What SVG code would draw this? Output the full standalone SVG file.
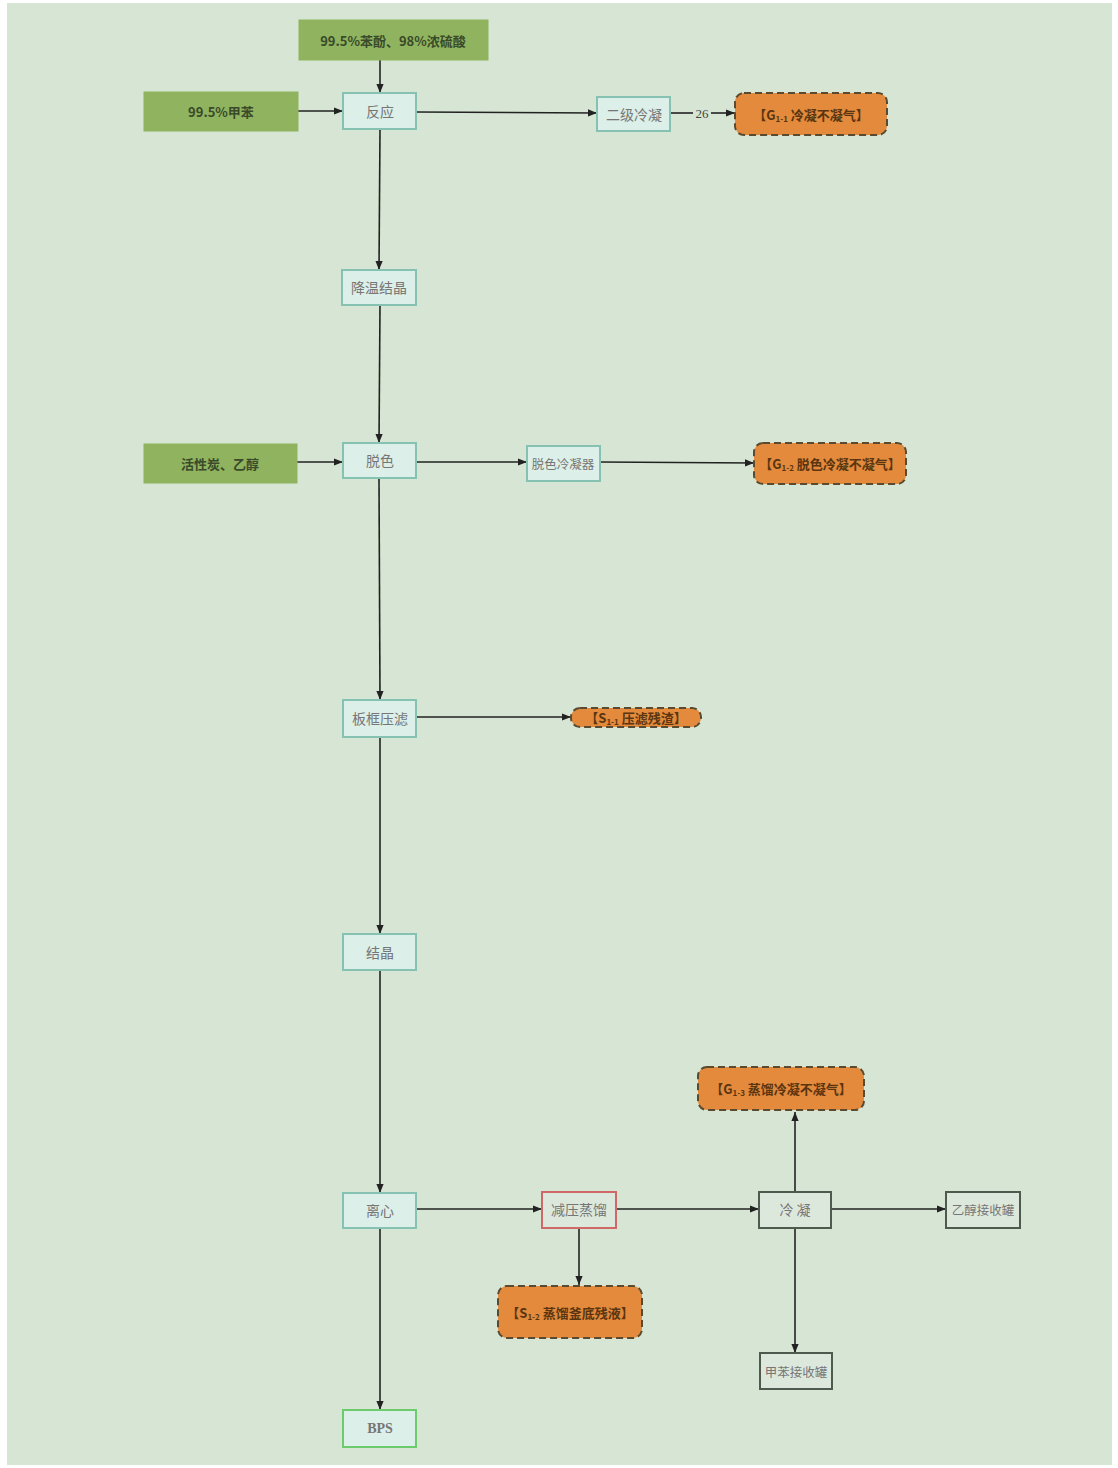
<svg xmlns="http://www.w3.org/2000/svg" width="1118" height="1468" viewBox="0 0 1118 1468">
  <defs>
    <marker id="arr" viewBox="0 0 10 10" refX="10" refY="5" markerWidth="9" markerHeight="9" markerUnits="userSpaceOnUse" orient="auto">
      <path d="M0,1 L10,5 L0,9 Z" fill="#222"/>
    </marker>
    <style>
      text { font-family: "Noto Sans CJK SC", "Liberation Serif", serif; dominant-baseline: central; text-anchor: middle; }
      .feed rect { fill: #8fb35e; stroke: #8fb35e; }
      .feed text { font-size: 13px; fill: #3a4a2a; font-weight: bold; }
      .step rect { fill: #dcefe9; stroke: #86c2b2; stroke-width: 2; }
      .step text { font-size: 14px; fill: #767676; }
      .step text.long { font-size: 12.5px; }
      .dark rect { fill: #dde8dc; stroke: #4d5a4d; stroke-width: 2; }
      .red rect { fill: #dde8dc; stroke: #d06868; stroke-width: 2; }
      .prod rect { fill: #dcefe9; stroke: #6ccb6c; stroke-width: 2; }
      .emit rect { fill: #e38a3c; stroke: #5a4a30; stroke-width: 2; stroke-dasharray: 7 4; }
      .emit text { font-size: 13px; fill: #5a3510; font-weight: bold; }
      .emit tspan.sub { font-size: 8px; }
      #connectors line { stroke: #222; stroke-width: 1.6; fill: none; }
      .lbl { font-size: 13px; fill: #444; font-family: "Liberation Serif", serif; }
      .latin { font-family: "Liberation Serif", serif; font-weight: bold; }
    </style>
  </defs>

  <!-- page -->
  <rect x="0" y="0" width="1118" height="1468" fill="#ffffff"/>
  <rect x="7" y="3" width="1105" height="1462" fill="#d7e6d4"/>

  <!-- connectors -->
  <g id="connectors">
    <line x1="380" y1="60" x2="380" y2="93" marker-end="url(#arr)"/>
    <line x1="298" y1="111" x2="343" y2="111" marker-end="url(#arr)"/>
    <line x1="416" y1="112" x2="597" y2="113" marker-end="url(#arr)"/>
    <line x1="670" y1="113" x2="693" y2="113"/>
    <line x1="711" y1="113" x2="735" y2="113" marker-end="url(#arr)"/>
    <line x1="380" y1="129" x2="379" y2="270" marker-end="url(#arr)"/>
    <line x1="380" y1="305" x2="379" y2="443" marker-end="url(#arr)"/>
    <line x1="297" y1="462" x2="343" y2="462" marker-end="url(#arr)"/>
    <line x1="416" y1="462" x2="527" y2="462" marker-end="url(#arr)"/>
    <line x1="600" y1="462" x2="754" y2="463" marker-end="url(#arr)"/>
    <line x1="379" y1="478" x2="380" y2="700" marker-end="url(#arr)"/>
    <line x1="416" y1="717" x2="571" y2="717" marker-end="url(#arr)"/>
    <line x1="380" y1="737" x2="380" y2="934" marker-end="url(#arr)"/>
    <line x1="380" y1="970" x2="380" y2="1193" marker-end="url(#arr)"/>
    <line x1="416" y1="1209" x2="542" y2="1209" marker-end="url(#arr)"/>
    <line x1="616" y1="1209" x2="759" y2="1209" marker-end="url(#arr)"/>
    <line x1="831" y1="1209" x2="946" y2="1209" marker-end="url(#arr)"/>
    <line x1="795" y1="1192" x2="795" y2="1112" marker-end="url(#arr)"/>
    <line x1="795" y1="1228" x2="795" y2="1353" marker-end="url(#arr)"/>
    <line x1="579" y1="1228" x2="579" y2="1285" marker-end="url(#arr)"/>
    <line x1="380" y1="1228" x2="380" y2="1410" marker-end="url(#arr)"/>
  </g>
  <text class="lbl" x="702" y="113">26</text>

  <!-- raw material feeds -->
  <g id="feed-phenol" class="feed">
    <rect x="299" y="20" width="189" height="40"/>
    <text x="393" y="40">99.5%苯酚、98%浓硫酸</text>
  </g>
  <g id="feed-toluene" class="feed">
    <rect x="144" y="92" width="154" height="39"/>
    <text x="221" y="111">99.5%甲苯</text>
  </g>
  <g id="feed-carbon" class="feed">
    <rect x="144" y="444" width="153" height="39"/>
    <text x="220" y="463">活性炭、乙醇</text>
  </g>

  <!-- process steps -->
  <g id="reaction" class="step">
    <rect x="343" y="93" width="73" height="36"/>
    <text x="380" y="111">反应</text>
  </g>
  <g id="condenser2" class="step">
    <rect x="597" y="97" width="73" height="34"/>
    <text x="634" y="114">二级冷凝</text>
  </g>
  <g id="cooling" class="step">
    <rect x="342" y="270" width="74" height="35"/>
    <text x="379" y="287">降温结晶</text>
  </g>
  <g id="decolor" class="step">
    <rect x="343" y="443" width="73" height="35"/>
    <text x="380" y="460">脱色</text>
  </g>
  <g id="decolor-condenser" class="step">
    <rect x="527" y="446" width="73" height="35"/>
    <text class="long" x="563" y="463">脱色冷凝器</text>
  </g>
  <g id="filter" class="step">
    <rect x="343" y="700" width="73" height="37"/>
    <text x="380" y="718">板框压滤</text>
  </g>
  <g id="crystal" class="step">
    <rect x="343" y="934" width="73" height="36"/>
    <text x="380" y="952">结晶</text>
  </g>
  <g id="centrifuge" class="step">
    <rect x="343" y="1193" width="73" height="35"/>
    <text x="380" y="1210">离心</text>
  </g>
  <g id="distill" class="step red">
    <rect x="542" y="1192" width="74" height="36"/>
    <text x="579" y="1209">减压蒸馏</text>
  </g>
  <g id="condense" class="step dark">
    <rect x="759" y="1192" width="72" height="36"/>
    <text x="795" y="1209">冷 凝</text>
  </g>
  <g id="ethanol-tank" class="step dark">
    <rect x="946" y="1192" width="74" height="36"/>
    <text class="long" x="983" y="1209">乙醇接收罐</text>
  </g>
  <g id="toluene-tank" class="step dark">
    <rect x="760" y="1353" width="72" height="36"/>
    <text class="long" x="796" y="1371">甲苯接收罐</text>
  </g>
  <g id="bps" class="step prod">
    <rect x="343" y="1410" width="73" height="37"/>
    <text class="latin" x="380" y="1428">BPS</text>
  </g>

  <!-- emissions / residues -->
  <g id="g1-1" class="emit">
    <rect x="735" y="93" width="152" height="42" rx="9"/>
    <text x="811" y="114">【G<tspan class="sub" dy="4">1-1</tspan><tspan dy="-4"> 冷凝不凝气】</tspan></text>
  </g>
  <g id="g1-2" class="emit">
    <rect x="754" y="443" width="152" height="41" rx="9"/>
    <text x="830" y="463">【G<tspan class="sub" dy="4">1-2</tspan><tspan dy="-4"> 脱色冷凝不凝气】</tspan></text>
  </g>
  <g id="s1-1" class="emit">
    <rect x="571" y="708" width="130" height="19" rx="9"/>
    <text x="636" y="717">【S<tspan class="sub" dy="4">1-1</tspan><tspan dy="-4"> 压滤残渣】</tspan></text>
  </g>
  <g id="g1-3" class="emit">
    <rect x="698" y="1067" width="166" height="43" rx="9"/>
    <text x="781" y="1088">【G<tspan class="sub" dy="4">1-3</tspan><tspan dy="-4"> 蒸馏冷凝不凝气】</tspan></text>
  </g>
  <g id="s1-2" class="emit">
    <rect x="498" y="1286" width="144" height="52" rx="9"/>
    <text x="570" y="1312">【S<tspan class="sub" dy="4">1-2</tspan><tspan dy="-4"> 蒸馏釜底残液】</tspan></text>
  </g>
</svg>
